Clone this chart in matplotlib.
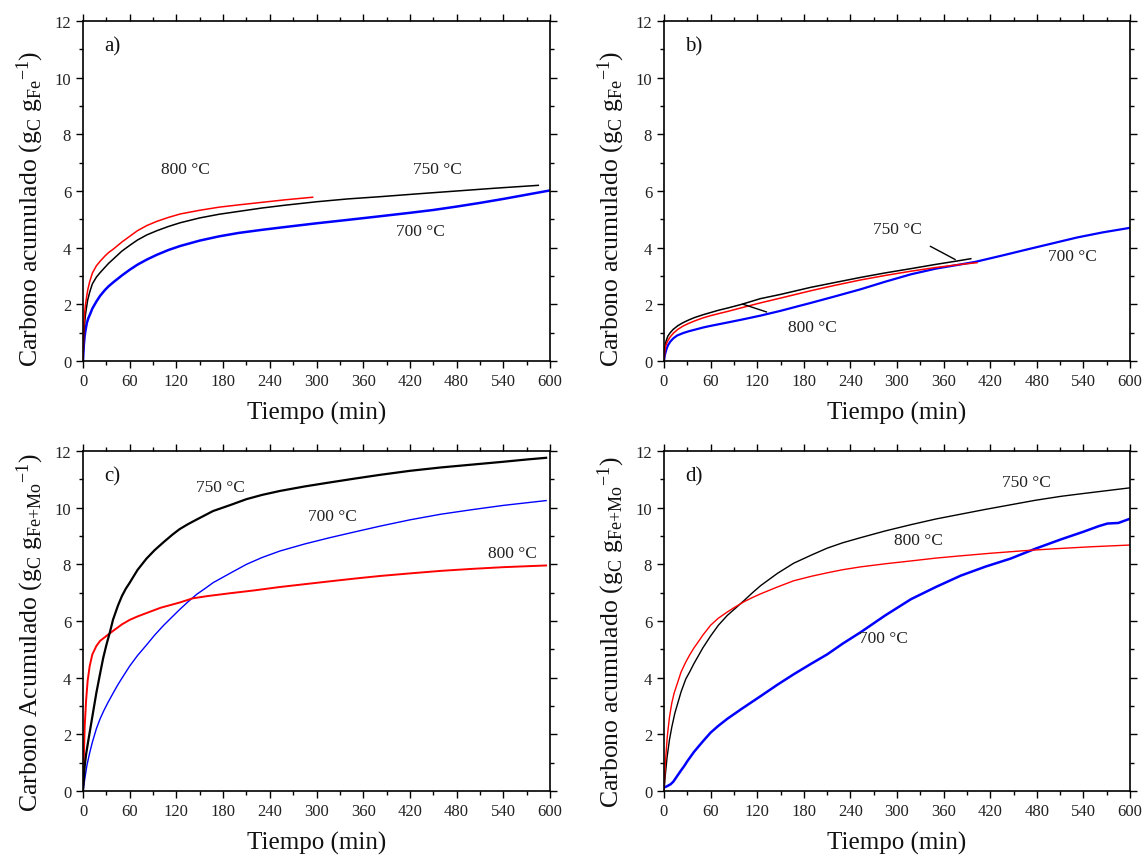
import matplotlib
matplotlib.use("Agg")
import matplotlib.pyplot as plt
from matplotlib.ticker import MultipleLocator

plt.rcParams['font.family'] = ['Liberation Serif', 'DejaVu Serif']
plt.rcParams['mathtext.fontset'] = 'custom'
plt.rcParams['mathtext.rm'] = 'Liberation Serif'
plt.rcParams['mathtext.it'] = 'Liberation Serif:italic'

# ---- a) ----
a_t800 = [0, 1, 2, 3, 4.3, 6, 8.6, 12, 17.2, 22, 28, 33, 39, 50, 60, 70, 82, 95, 110, 125, 150, 175, 200, 230,
          260, 295]
a_y800 = [0, 1.2, 1.65, 1.95, 2.2, 2.5, 2.8, 3.1, 3.36, 3.52, 3.7, 3.83, 3.95, 4.2, 4.4, 4.6, 4.78, 4.93, 5.07,
          5.19, 5.32, 5.43, 5.51, 5.6, 5.69, 5.78]
a_t750 = [0, 1, 2, 3, 4.3, 6, 8.6, 12, 17.2, 22, 28, 33, 39, 50, 60, 70, 82, 95, 110, 125, 150, 175, 200, 230, 260,
          300, 340, 382, 430, 480, 530, 585]
a_y750 = [0, 0.9, 1.3, 1.6, 1.85, 2.15, 2.43, 2.72, 2.96, 3.12, 3.3, 3.45, 3.6, 3.88, 4.08, 4.27, 4.45, 4.6, 4.75,
          4.88, 5.05, 5.18, 5.28, 5.4, 5.5, 5.62, 5.72, 5.8, 5.9, 6.0, 6.1, 6.2]
a_t700 = [0, 1, 2.2, 3, 5, 7, 8.6, 12, 17.2, 22, 28, 33, 39, 50, 60, 70, 82, 95, 110, 125, 150, 175, 200, 230, 260,
          300, 340, 382, 420, 450, 480, 510, 540, 570, 600]
a_y700 = [0, 0.55, 0.9, 1.05, 1.35, 1.52, 1.62, 1.85, 2.1, 2.3, 2.5, 2.64, 2.78, 3.02, 3.22, 3.4, 3.58, 3.75, 3.92,
          4.06, 4.25, 4.4, 4.52, 4.63, 4.73, 4.86, 4.98, 5.11, 5.23, 5.33, 5.45, 5.58, 5.72, 5.87, 6.02]

# ---- b) ----
b_t750 = [0, 1, 2, 3, 5, 8, 12, 18, 25, 32, 39, 50, 60, 70, 82, 100, 124, 150, 189, 220, 253, 285, 318, 350, 382, 395]
b_y750 = [0, 0.45, 0.62, 0.73, 0.88, 1.0, 1.12, 1.25, 1.36, 1.45, 1.53, 1.63, 1.71, 1.79, 1.87, 2.0, 2.2, 2.35,
          2.6, 2.77, 2.95, 3.11, 3.26, 3.41, 3.55, 3.61]
b_t800 = [0, 1, 2, 3, 5, 8, 12, 18, 25, 32, 39, 50, 60, 70, 82, 100, 124, 150, 189, 220, 253, 285, 318, 350, 382, 403]
b_y800 = [0, 0.35, 0.5, 0.6, 0.72, 0.85, 0.98, 1.12, 1.24, 1.33, 1.41, 1.52, 1.6, 1.67, 1.75, 1.88, 2.05, 2.22,
          2.48, 2.67, 2.86, 3.02, 3.17, 3.3, 3.41, 3.47]
b_t700 = [0, 1, 2, 3, 5, 8, 12, 17, 25, 32, 39, 50, 60, 82, 100, 124, 150, 175, 189, 220, 253, 285, 318, 350, 380,
          401, 435, 468, 500, 532, 565, 600]
b_y700 = [0, 0.2, 0.3, 0.4, 0.55, 0.68, 0.8, 0.9, 0.99, 1.05, 1.1, 1.18, 1.24, 1.36, 1.46, 1.6, 1.77, 1.95, 2.05,
          2.28, 2.53, 2.8, 3.06, 3.26, 3.4, 3.5, 3.72, 3.94, 4.15, 4.36, 4.54, 4.7]

# ---- c) ----
c_t750 = [0, 2.2, 4, 6.4, 10, 14, 17.2, 22, 26, 30, 34.7, 38.6, 45, 50, 55, 60, 70, 81.5, 92, 103, 115, 124, 135,
          146, 167, 190, 210, 230, 253, 285, 317, 350, 382, 420, 460, 500, 540, 570, 595]
c_y750 = [0, 0.88, 1.3, 1.71, 2.3, 2.95, 3.47, 4.15, 4.7, 5.15, 5.62, 6.05, 6.55, 6.88, 7.14, 7.35, 7.8, 8.2, 8.5,
          8.77, 9.05, 9.24, 9.42, 9.58, 9.88, 10.1, 10.3, 10.45, 10.59, 10.75, 10.89, 11.03, 11.16, 11.3, 11.42,
          11.52, 11.62, 11.7, 11.76]
c_t800 = [0, 1, 2.2, 4, 6, 8.6, 12, 17.2, 22, 30, 38.6, 50, 60, 70, 81.5, 100, 124, 141, 160, 189, 220, 253,
          285, 317, 350, 382, 420, 460, 500, 540, 595]
c_y800 = [0, 1.1, 2.3, 3.2, 3.9, 4.41, 4.82, 5.12, 5.3, 5.47, 5.65, 5.88, 6.04, 6.16, 6.28, 6.47, 6.65,
          6.8, 6.88, 6.98, 7.08, 7.2, 7.3, 7.4, 7.5, 7.59, 7.68, 7.77, 7.84, 7.9, 7.96]
c_t700 = [0, 1, 2.2, 5, 8.6, 12, 17.2, 22, 27, 32, 38.6, 45, 50, 60, 70, 81.5, 92, 103, 114, 124, 135, 146, 157,
          167, 190, 210, 230, 253, 285, 317, 350, 382, 420, 460, 500, 540, 595]
c_y700 = [0, 0.18, 0.41, 0.9, 1.35, 1.72, 2.2, 2.55, 2.85, 3.12, 3.45, 3.76, 3.98, 4.41, 4.78, 5.15, 5.5, 5.83,
          6.13, 6.4, 6.68, 6.94, 7.15, 7.35, 7.7, 8.0, 8.24, 8.47, 8.72, 8.94, 9.15, 9.35, 9.57, 9.77, 9.93,
          10.08, 10.25]

# ---- d) ----
d_t750 = [0, 2, 4, 7, 10, 14, 17.2, 22, 28, 33, 38.6, 50, 60, 70, 81.6, 92, 103, 114, 124.5, 146, 167, 190, 210,
          230, 253, 285, 318, 350, 382, 414, 446, 478, 511, 540, 570, 600]
d_y750 = [0, 0.65, 1.2, 1.8, 2.25, 2.75, 3.05, 3.5, 3.95, 4.2, 4.5, 5.05, 5.47, 5.85, 6.2, 6.45, 6.72, 7.0, 7.25,
          7.68, 8.04, 8.33, 8.57, 8.76, 8.94, 9.18, 9.4, 9.6, 9.77, 9.94, 10.1, 10.26, 10.4, 10.5, 10.6, 10.7]
d_t800 = [0, 1, 2, 4.3, 7, 10, 13, 17.2, 22, 28, 33, 38.6, 45, 50, 60, 70, 81.6, 92, 103, 114, 124.5, 146, 167,
          190, 210, 230, 253, 285, 318, 350, 382, 420, 468, 510, 550, 599]
d_y800 = [0, 0.6, 1.1, 1.94, 2.6, 3.1, 3.45, 3.8, 4.2, 4.55, 4.8, 5.05, 5.3, 5.5, 5.85, 6.1, 6.32, 6.5, 6.68, 6.83,
          6.96, 7.2, 7.42, 7.58, 7.7, 7.81, 7.91, 8.02, 8.12, 8.22, 8.3, 8.39, 8.49, 8.56, 8.62, 8.68]
d_t700 = [0, 4, 8.6, 12, 15, 18, 21.5, 26, 30, 38.6, 50, 60, 70, 81.6, 100, 124.5, 146, 167, 190, 210, 230, 253,
          285, 318, 350, 382, 414, 446, 478, 511, 540, 560, 571, 585, 601]
d_y700 = [0.12, 0.17, 0.24, 0.33, 0.45, 0.57, 0.71, 0.88, 1.05, 1.38, 1.75, 2.06, 2.3, 2.55, 2.9, 3.35, 3.75, 4.12,
          4.5, 4.82, 5.2, 5.6, 6.2, 6.77, 7.2, 7.6, 7.92, 8.2, 8.55, 8.88, 9.15, 9.35, 9.44, 9.46, 9.62]

ylab_fe = r'Carbono acumulado (g$_{\mathrm{C}}$ g$_{\mathrm{Fe}}$$^{-1}$)'
ylab_femo_c = r'Carbono Acumulado (g$_{\mathrm{C}}$ g$_{\mathrm{Fe{+}Mo}}$$^{-1}$)'
ylab_femo_d = r'Carbono acumulado (g$_{\mathrm{C}}$ g$_{\mathrm{Fe{+}Mo}}$$^{-1}$)'

fig = plt.figure(figsize=(11.45, 8.62), dpi=100)
W, H = 1145, 862
boxes = {
    'a': (83, 22, 550, 362),
    'b': (664, 22, 1130, 362),
    'c': (83, 452, 550, 792),
    'd': (664, 452, 1130, 792),
}
axes = {}
for key, (x0, y0, x1, y1) in boxes.items():
    axes[key] = fig.add_axes([x0 / W, 1 - y1 / H, (x1 - x0) / W, (y1 - y0) / H])


def style(ax, letter, ylabel, ypos):
    ax.set_xlim(0, 600)
    ax.set_ylim(0, 12)
    ax.xaxis.set_major_locator(MultipleLocator(60))
    ax.xaxis.set_minor_locator(MultipleLocator(30))
    ax.yaxis.set_major_locator(MultipleLocator(2))
    ax.yaxis.set_minor_locator(MultipleLocator(1))
    ax.tick_params(which='both', direction='out', top=True, right=True,
                   labelsize=12, labelcolor='#222222', width=1.0)
    ax.tick_params(which='major', length=5)
    ax.tick_params(which='minor', length=3)
    for s in ax.spines.values():
        s.set_linewidth(1.2)
    ax.set_xlabel('Tiempo (min)', fontsize=18, labelpad=9, color='#111111')
    ax.set_ylabel(ylabel, fontsize=18.5, color='#111111')
    ax.yaxis.set_label_coords(-0.08, ypos)
    ax.text(0.045, 0.955, letter, transform=ax.transAxes, fontsize=15,
            ha='left', va='top', color='#111111')


lab = dict(fontsize=12.5, ha='center', va='center', color='#222222')

ax = axes['a']
ax.plot(a_t700, a_y700, color='#0000ff', lw=1.8)
ax.plot(a_t750, a_y750, color='black', lw=1.1)
ax.plot(a_t800, a_y800, color='#ff0000', lw=1.1)
ax.text(131, 6.78, '800 °C', **lab)
ax.text(455, 6.78, '750 °C', **lab)
ax.text(433, 4.59, '700 °C', **lab)
style(ax, 'a)', ylab_fe, 0.45)

ax = axes['b']
ax.plot(b_t700, b_y700, color='#0000ff', lw=1.6)
ax.plot(b_t750, b_y750, color='black', lw=1.1)
ax.plot(b_t800, b_y800, color='#ff0000', lw=1.1)
ax.annotate('750 °C', xy=(375, 3.58), xytext=(301, 4.66),
            arrowprops=dict(arrowstyle='-', color='black', lw=1.0,
                            shrinkA=10, shrinkB=0), **lab)
ax.annotate('800 °C', xy=(101, 2.01), xytext=(191, 1.2),
            arrowprops=dict(arrowstyle='-', color='black', lw=1.0,
                            shrinkA=14, shrinkB=0), **lab)
ax.text(526, 3.72, '700 °C', **lab)
style(ax, 'b)', ylab_fe, 0.45)

ax = axes['c']
ax.plot(c_t700, c_y700, color='#0000ff', lw=1.0)
ax.plot(c_t800, c_y800, color='#ff0000', lw=1.4)
ax.plot(c_t750, c_y750, color='black', lw=1.6)
ax.text(176, 10.73, '750 °C', **lab)
ax.text(320, 9.7, '700 °C', **lab)
ax.text(552, 8.4, '800 °C', **lab)
style(ax, 'c)', ylab_femo_c, 0.47)

ax = axes['d']
ax.plot(d_t700, d_y700, color='#0000ff', lw=1.8)
ax.plot(d_t750, d_y750, color='black', lw=1.0)
ax.plot(d_t800, d_y800, color='#ff0000', lw=1.0)
ax.text(467, 10.9, '750 °C', **lab)
ax.text(327, 8.86, '800 °C', **lab)
ax.text(283, 5.41, '700 °C', **lab)
style(ax, 'd)', ylab_femo_d, 0.47)

fig.savefig('out.png', dpi=100)
